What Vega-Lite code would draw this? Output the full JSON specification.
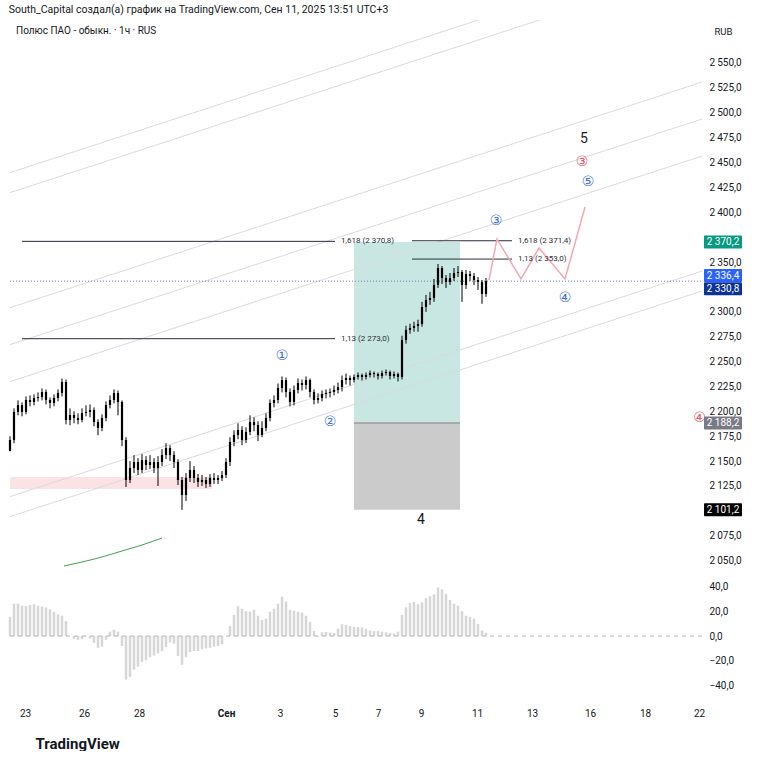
{
  "$schema": "https://vega.github.io/schema/vega-lite/v6.json",
  "padding": {"left": 8, "top": 4, "right": 0, "bottom": 0},
  "autosize": {"type": "pad"},
  "background": "white",
  "config": {
    "font": "Roboto",
    "view": {"stroke": null},
    "locale": {"number": {"decimal": ",", "thousands": "\u2009", "grouping": [3], "currency": ["", ""]}},
    "axis": {"grid": false, "ticks": false, "domain": false, "labelColor": "#131722", "labelFontSize": 10, "labelFont": "Roboto"}
  },
  "title": {"text": "South_Capital создал(а) график на TradingView.com, Сен 11, 2025 13:51 UTC+3", "anchor": "start", "frame": "bounds", "fontSize": 10.5, "fontWeight": "normal", "color": "#131722", "offset": 5, "font": "Roboto"},
  "datasets": {
    "candles": [
      {"t":0,"o":2160,"h":2175,"l":2164,"c":2171.2,"v":15.5},
      {"t":1,"o":2171.2,"h":2203,"l":2168,"c":2199.4,"v":26},
      {"t":2,"o":2199.4,"h":2211,"l":2196,"c":2206.4,"v":26},
      {"t":3,"o":2206.4,"h":2209,"l":2195,"c":2199.4,"v":24.5},
      {"t":4,"o":2199.4,"h":2215,"l":2197,"c":2211.4,"v":24},
      {"t":5,"o":2211.4,"h":2216,"l":2205,"c":2209.4,"v":25},
      {"t":6,"o":2209.4,"h":2217,"l":2206,"c":2213.4,"v":25.5},
      {"t":7,"o":2213.4,"h":2219,"l":2210,"c":2214.4,"v":24.5},
      {"t":8,"o":2214.4,"h":2223,"l":2211,"c":2219.5,"v":23.7},
      {"t":9,"o":2219.5,"h":2222,"l":2207,"c":2211.4,"v":23},
      {"t":10,"o":2211.4,"h":2214,"l":2203,"c":2208.4,"v":21.5},
      {"t":11,"o":2208.4,"h":2217,"l":2205,"c":2213.4,"v":19.5},
      {"t":12,"o":2213.4,"h":2222,"l":2210,"c":2218.5,"v":17.5},
      {"t":13,"o":2218.5,"h":2233,"l":2215,"c":2229.5,"v":16.3},
      {"t":14,"o":2229.5,"h":2232,"l":2187,"c":2191.3,"v":12},
      {"t":15,"o":2191.3,"h":2203,"l":2186,"c":2196.3,"v":0},
      {"t":16,"o":2196.3,"h":2200,"l":2188,"c":2193.3,"v":-2.5},
      {"t":17,"o":2193.3,"h":2198,"l":2187,"c":2191.3,"v":-3},
      {"t":18,"o":2191.3,"h":2203,"l":2189,"c":2198.4,"v":-2.5},
      {"t":19,"o":2198.4,"h":2206,"l":2195,"c":2199.4,"v":0.5},
      {"t":20,"o":2199.4,"h":2207,"l":2194,"c":2201.4,"v":-2},
      {"t":21,"o":2201.4,"h":2204,"l":2185,"c":2189.3,"v":-5.5},
      {"t":22,"o":2189.3,"h":2192,"l":2176,"c":2183.3,"v":-9.5},
      {"t":23,"o":2183.3,"h":2197,"l":2180,"c":2193.3,"v":-8.5},
      {"t":24,"o":2193.3,"h":2210,"l":2190,"c":2206.4,"v":-3},
      {"t":25,"o":2206.4,"h":2216,"l":2203,"c":2211.4,"v":3.5},
      {"t":26,"o":2211.4,"h":2222,"l":2208,"c":2218.5,"v":5},
      {"t":27,"o":2218.5,"h":2221,"l":2196,"c":2209.4,"v":3.5},
      {"t":28,"o":2209.4,"h":2211,"l":2165,"c":2171.2,"v":-8},
      {"t":29,"o":2171.2,"h":2174,"l":2124,"c":2131.0,"v":-35},
      {"t":30,"o":2131.0,"h":2150,"l":2128,"c":2143.1,"v":-33},
      {"t":31,"o":2143.1,"h":2156,"l":2138,"c":2149.1,"v":-27},
      {"t":32,"o":2149.1,"h":2153,"l":2136,"c":2141.1,"v":-24.5},
      {"t":33,"o":2141.1,"h":2157,"l":2138,"c":2151.1,"v":-21},
      {"t":34,"o":2151.1,"h":2155,"l":2141,"c":2146.1,"v":-19.5},
      {"t":35,"o":2146.1,"h":2156,"l":2142,"c":2149.1,"v":-17},
      {"t":36,"o":2149.1,"h":2153,"l":2138,"c":2143.1,"v":-15.5},
      {"t":37,"o":2143.1,"h":2155,"l":2125,"c":2149.1,"v":-14},
      {"t":38,"o":2149.1,"h":2162,"l":2145,"c":2156.2,"v":-12},
      {"t":39,"o":2156.2,"h":2168,"l":2152,"c":2163.2,"v":-9},
      {"t":40,"o":2163.2,"h":2166,"l":2150,"c":2156.2,"v":-5},
      {"t":41,"o":2156.2,"h":2160,"l":2143,"c":2149.1,"v":-6},
      {"t":42,"o":2149.1,"h":2152,"l":2126,"c":2131.0,"v":-16},
      {"t":43,"o":2131.0,"h":2134,"l":2101,"c":2116.0,"v":-23},
      {"t":44,"o":2116.0,"h":2138,"l":2110,"c":2133.1,"v":-17},
      {"t":45,"o":2133.1,"h":2150,"l":2129,"c":2141.1,"v":-13},
      {"t":46,"o":2141.1,"h":2145,"l":2128,"c":2133.1,"v":-12},
      {"t":47,"o":2133.1,"h":2137,"l":2124,"c":2129.0,"v":-12},
      {"t":48,"o":2129.0,"h":2136,"l":2125,"c":2131.0,"v":-10.6},
      {"t":49,"o":2131.0,"h":2134,"l":2123,"c":2127.0,"v":-10},
      {"t":50,"o":2127.0,"h":2137,"l":2124,"c":2133.1,"v":-9.5},
      {"t":51,"o":2133.1,"h":2138,"l":2127,"c":2131.0,"v":-8.5},
      {"t":52,"o":2131.0,"h":2136,"l":2127,"c":2133.1,"v":-8},
      {"t":53,"o":2133.1,"h":2140,"l":2130,"c":2136.1,"v":-6.5},
      {"t":54,"o":2136.1,"h":2153,"l":2133,"c":2149.1,"v":0},
      {"t":55,"o":2149.1,"h":2174,"l":2145,"c":2169.2,"v":8},
      {"t":56,"o":2169.2,"h":2181,"l":2165,"c":2176.3,"v":17},
      {"t":57,"o":2176.3,"h":2188,"l":2172,"c":2181.3,"v":24},
      {"t":58,"o":2181.3,"h":2185,"l":2166,"c":2171.2,"v":22},
      {"t":59,"o":2171.2,"h":2184,"l":2168,"c":2179.3,"v":20},
      {"t":60,"o":2179.3,"h":2196,"l":2176,"c":2189.3,"v":19.6},
      {"t":61,"o":2189.3,"h":2194,"l":2180,"c":2186.3,"v":21},
      {"t":62,"o":2186.3,"h":2190,"l":2170,"c":2176.3,"v":16.3},
      {"t":63,"o":2176.3,"h":2190,"l":2174,"c":2183.3,"v":13},
      {"t":64,"o":2183.3,"h":2198,"l":2180,"c":2193.3,"v":14},
      {"t":65,"o":2193.3,"h":2212,"l":2190,"c":2208.4,"v":19.6},
      {"t":66,"o":2208.4,"h":2216,"l":2204,"c":2211.4,"v":22},
      {"t":67,"o":2211.4,"h":2228,"l":2208,"c":2223.5,"v":26},
      {"t":68,"o":2223.5,"h":2235,"l":2219,"c":2231.5,"v":31.8},
      {"t":69,"o":2231.5,"h":2234,"l":2214,"c":2219.5,"v":27.8},
      {"t":70,"o":2219.5,"h":2223,"l":2205,"c":2209.4,"v":21},
      {"t":71,"o":2209.4,"h":2226,"l":2206,"c":2221.5,"v":20.4},
      {"t":72,"o":2221.5,"h":2233,"l":2218,"c":2228.5,"v":19.6},
      {"t":73,"o":2228.5,"h":2232,"l":2221,"c":2226.5,"v":18.8},
      {"t":74,"o":2226.5,"h":2235,"l":2222,"c":2231.5,"v":16.3},
      {"t":75,"o":2231.5,"h":2233,"l":2214,"c":2219.5,"v":11.4},
      {"t":76,"o":2219.5,"h":2222,"l":2207,"c":2211.4,"v":4},
      {"t":77,"o":2211.4,"h":2218,"l":2208,"c":2213.4,"v":-0.5},
      {"t":78,"o":2213.4,"h":2221,"l":2210,"c":2217.5,"v":3},
      {"t":79,"o":2217.5,"h":2222,"l":2213,"c":2218.5,"v":3.3},
      {"t":80,"o":2218.5,"h":2223,"l":2214,"c":2219.5,"v":2.8},
      {"t":81,"o":2219.5,"h":2226,"l":2216,"c":2221.5,"v":2.5},
      {"t":82,"o":2221.5,"h":2229,"l":2218,"c":2224.5,"v":6},
      {"t":83,"o":2224.5,"h":2236,"l":2220,"c":2231.5,"v":9.5},
      {"t":84,"o":2231.5,"h":2238,"l":2227,"c":2233.5,"v":9},
      {"t":85,"o":2233.5,"h":2236,"l":2226,"c":2231.5,"v":8},
      {"t":86,"o":2231.5,"h":2237,"l":2229,"c":2234.5,"v":7.5},
      {"t":87,"o":2234.5,"h":2239,"l":2232,"c":2236.5,"v":7.3},
      {"t":88,"o":2236.5,"h":2238,"l":2231,"c":2234.5,"v":7},
      {"t":89,"o":2234.5,"h":2239,"l":2232,"c":2236.5,"v":5.8},
      {"t":90,"o":2236.5,"h":2241,"l":2234,"c":2238.5,"v":4.5},
      {"t":91,"o":2238.5,"h":2240,"l":2234,"c":2237.5,"v":4},
      {"t":92,"o":2237.5,"h":2239,"l":2232,"c":2235.5,"v":4},
      {"t":93,"o":2235.5,"h":2241,"l":2233,"c":2238.5,"v":3.6},
      {"t":94,"o":2238.5,"h":2242,"l":2236,"c":2239.5,"v":3},
      {"t":95,"o":2239.5,"h":2241,"l":2232,"c":2235.5,"v":2.5},
      {"t":96,"o":2235.5,"h":2240,"l":2233,"c":2237.5,"v":2.2},
      {"t":97,"o":2237.5,"h":2239,"l":2230,"c":2234.5,"v":3.5},
      {"t":98,"o":2234.5,"h":2276,"l":2232,"c":2271.7,"v":17},
      {"t":99,"o":2271.7,"h":2286,"l":2268,"c":2281.8,"v":23},
      {"t":100,"o":2281.8,"h":2288,"l":2278,"c":2283.8,"v":26.5},
      {"t":101,"o":2283.8,"h":2290,"l":2280,"c":2285.8,"v":27.5},
      {"t":102,"o":2285.8,"h":2292,"l":2280,"c":2287.8,"v":25.5},
      {"t":103,"o":2287.8,"h":2310,"l":2285,"c":2304.9,"v":27},
      {"t":104,"o":2304.9,"h":2317,"l":2300,"c":2311.9,"v":30.5},
      {"t":105,"o":2311.9,"h":2320,"l":2307,"c":2313.9,"v":32},
      {"t":106,"o":2313.9,"h":2333,"l":2310,"c":2327.0,"v":33.5},
      {"t":107,"o":2327.0,"h":2348,"l":2324,"c":2344.0,"v":39},
      {"t":108,"o":2344.0,"h":2346,"l":2328,"c":2334.0,"v":37.5},
      {"t":109,"o":2334.0,"h":2337,"l":2324,"c":2330.0,"v":34},
      {"t":110,"o":2330.0,"h":2339,"l":2327,"c":2334.0,"v":29},
      {"t":111,"o":2334.0,"h":2344,"l":2331,"c":2339.0,"v":26},
      {"t":112,"o":2339.0,"h":2346,"l":2335,"c":2340.0,"v":24.5},
      {"t":113,"o":2340.0,"h":2342,"l":2310,"c":2327.0,"v":20},
      {"t":114,"o":2327.0,"h":2342,"l":2323,"c":2338.0,"v":16.3},
      {"t":115,"o":2338.0,"h":2341,"l":2331,"c":2336.0,"v":15.5},
      {"t":116,"o":2336.0,"h":2339,"l":2327,"c":2332.0,"v":13.9},
      {"t":117,"o":2332.0,"h":2335,"l":2322,"c":2330.0,"v":9.8},
      {"t":118,"o":2330.0,"h":2332,"l":2308,"c":2318.0,"v":4.5},
      {"t":119,"o":2318.0,"h":2334,"l":2315,"c":2330.8,"v":2.5}
    ],
    "channels": [
      {"id":1,"t":-0.25,"p":2439.5},{"id":1,"t":173,"p":2666.5},
      {"id":2,"t":-0.25,"p":2419.4},{"id":2,"t":173,"p":2646.4},
      {"id":3,"t":-0.25,"p":2303.8},{"id":3,"t":173,"p":2530.8},
      {"id":4,"t":-0.25,"p":2266.7},{"id":4,"t":173,"p":2493.7},
      {"id":5,"t":-0.25,"p":2229.5},{"id":5,"t":173,"p":2456.5},
      {"id":6,"t":-0.25,"p":2114.0},{"id":6,"t":173,"p":2341.0},
      {"id":7,"t":-0.25,"p":2093.9},{"id":7,"t":173,"p":2320.9}
    ],
    "zones": [
      {"kind":"pink","t":0,"t2":50.5,"p":2122.0,"p2":2134.1},
      {"kind":"profit","t":86,"t2":112.5,"p":2188.2,"p2":2370.2},
      {"kind":"stop","t":86,"t2":112.5,"p":2101.2,"p2":2188.2}
    ],
    "fibs": [
      {"t":3,"t2":81.25,"p":2370.8},
      {"t":3,"t2":81.25,"p":2273.0},
      {"t":100.5,"t2":125.5,"p":2371.4},
      {"t":100.5,"t2":125.5,"p":2353.0}
    ],
    "entry": [
      {"t":86,"t2":112.5,"p":2188.2}
    ],
    "path": [
      {"t":119.75,"p":2331.9},
      {"t":121.75,"p":2373.2},
      {"t":127.75,"p":2333.0},
      {"t":132.25,"p":2364.1},
      {"t":138.75,"p":2333.0},
      {"t":143.75,"p":2405.3}
    ],
    "ma": [
      {"t":13.5,"p":2044.6},
      {"t":18,"p":2048.6},
      {"t":23,"p":2053.7},
      {"t":28,"p":2059.7},
      {"t":33,"p":2065.7},
      {"t":38,"p":2072.8}
    ],
    "labels": [
      {"kind":"legend","t":1.5,"p":2582,"text":"Полюс ПАО - обыкн. · 1ч · RUS"},
      {"kind":"blue","t":68,"p":2255.6,"text":"①"},
      {"kind":"blue","t":80,"p":2189.3,"text":"②"},
      {"kind":"blue","t":121.5,"p":2391.3,"text":"③"},
      {"kind":"blue","t":138.75,"p":2313.9,"text":"④"},
      {"kind":"blue","t":144.5,"p":2430.4,"text":"⑤"},
      {"kind":"red","t":143,"p":2450.5,"text":"③"},
      {"kind":"red","t":172.4,"p":2193.3,"text":"④"},
      {"kind":"big","t":143.5,"p":2473.6,"text":"5"},
      {"kind":"big","t":102.75,"p":2090.9,"text":"4"},
      {"kind":"fib","t":82.75,"p":2370.8,"text":"1,618 (2 370,8)"},
      {"kind":"fib","t":82.75,"p":2273.0,"text":"1,13 (2 273,0)"},
      {"kind":"fib","t":127,"p":2371.4,"text":"1,618 (2 371,4)"},
      {"kind":"fib","t":127,"p":2353.0,"text":"1,13 (2 353,0)"}
    ],
    "tags": [
      {"kind":"green","t":178.25,"t1":173.5,"t2":183,"p":2370.2,"lo":2363.7,"hi":2376.7,"text":"2 370,2"},
      {"kind":"blue","t":178.25,"t1":173.5,"t2":183,"p":2336.4,"lo":2329.9,"hi":2342.9,"text":"2 336,4"},
      {"kind":"navy","t":178.25,"t1":173.5,"t2":183,"p":2323.2,"lo":2316.7,"hi":2329.7,"text":"2 330,8"},
      {"kind":"gray","t":178.25,"t1":173.5,"t2":183,"p":2188.2,"lo":2181.7,"hi":2194.7,"text":"2 188,2"},
      {"kind":"black","t":178.25,"t1":173.5,"t2":183,"p":2101.2,"lo":2094.7,"hi":2107.7,"text":"2 101,2"}
    ],
    "price": [
      {"t":0,"t2":173,"p":2330.8}
    ]
  },
  "spacing": 0,
  "vconcat": [
    {
      "width": 692,
      "height": 548,
      "resolve": {"scale": {"color": "independent"}},
      "encoding": {
        "x": {"field": "t", "type": "quantitative", "scale": {"domain": [0, 173], "nice": false, "zero": false, "padding": 0}, "axis": null},
        "y": {"field": "p", "type": "quantitative", "scale": {"domain": [2042.6, 2593.2], "nice": false, "zero": false, "padding": 0},
          "axis": {"orient": "right", "values": [2050,2075,2125,2150,2175,2200,2225,2250,2275,2300,2350,2400,2425,2450,2475,2500,2525,2550], "format": ",.1f", "labelPadding": 7, "labelAlign": "left", "labelOverlap": false,
            "title": "RUB", "titleAngle": 0, "titleAlign": "left", "titleBaseline": "middle", "titleX": 12, "titleY": 11, "titleFontSize": 9.5, "titleFontWeight": "normal", "titleColor": "#131722"}}
      },
      "layer": [
        {
          "data": {"name": "zones"},
          "mark": {"type": "rect"},
          "encoding": {
            "x2": {"field": "t2"},
            "y2": {"field": "p2"},
            "color": {"field": "kind", "type": "nominal", "scale": {"domain": ["pink", "profit", "stop"], "range": ["#fbe2e5", "#c8e7e2", "#cbcbcb"]}, "legend": null}
          }
        },
        {
          "data": {"name": "channels"},
          "mark": {"type": "line", "color": "#dadade", "strokeWidth": 1, "clip": true},
          "encoding": {"detail": {"field": "id", "type": "nominal"}}
        },
        {
          "data": {"name": "entry"},
          "mark": {"type": "rule", "color": "#9a9a9a", "strokeWidth": 1.5},
          "encoding": {"x2": {"field": "t2"}}
        },
        {
          "data": {"name": "price"},
          "mark": {"type": "rule", "color": "#6f7fa8", "strokeWidth": 1, "strokeDash": [1, 2]},
          "encoding": {"x2": {"field": "t2"}}
        },
        {
          "data": {"name": "fibs"},
          "mark": {"type": "rule", "color": "#2a2e39", "strokeWidth": 1},
          "encoding": {"x2": {"field": "t2"}}
        },
        {
          "data": {"name": "ma"},
          "mark": {"type": "line", "color": "#43a047", "strokeWidth": 1, "interpolate": "monotone", "clip": true},
          "encoding": {}
        },
        {
          "data": {"name": "candles"},
          "mark": {"type": "rule", "color": "#000000", "strokeWidth": 1},
          "encoding": {
            "y": {"field": "l", "type": "quantitative", "scale": {"domain": [2042.6, 2593.2], "nice": false, "zero": false, "padding": 0},
              "axis": {"orient": "right", "values": [2050,2075,2125,2150,2175,2200,2225,2250,2275,2300,2350,2400,2425,2450,2475,2500,2525,2550], "format": ",.1f", "labelPadding": 7, "labelAlign": "left", "labelOverlap": false,
                "title": "RUB", "titleAngle": 0, "titleAlign": "left", "titleBaseline": "middle", "titleX": 12, "titleY": 11, "titleFontSize": 9.5, "titleFontWeight": "normal", "titleColor": "#131722"}},
            "y2": {"field": "h"}
          }
        },
        {
          "data": {"name": "candles"},
          "mark": {"type": "bar", "color": "#000000", "size": 2.2},
          "encoding": {
            "y": {"field": "o", "type": "quantitative", "scale": {"domain": [2042.6, 2593.2], "nice": false, "zero": false, "padding": 0},
              "axis": {"orient": "right", "values": [2050,2075,2125,2150,2175,2200,2225,2250,2275,2300,2350,2400,2425,2450,2475,2500,2525,2550], "format": ",.1f", "labelPadding": 7, "labelAlign": "left", "labelOverlap": false,
                "title": "RUB", "titleAngle": 0, "titleAlign": "left", "titleBaseline": "middle", "titleX": 12, "titleY": 11, "titleFontSize": 9.5, "titleFontWeight": "normal", "titleColor": "#131722"}},
            "y2": {"field": "c"}
          }
        },
        {
          "data": {"name": "path"},
          "mark": {"type": "line", "color": "#f4a7b4", "strokeWidth": 1.5},
          "encoding": {}
        },
        {
          "data": {"name": "labels"},
          "transform": [{"filter": "datum.kind == 'blue' || datum.kind == 'red'"}],
          "mark": {"type": "text", "fontSize": 14, "align": "center", "baseline": "middle", "font": "DejaVu Sans"},
          "encoding": {
            "text": {"field": "text"},
            "color": {"field": "kind", "type": "nominal", "scale": {"domain": ["blue", "red"], "range": ["#3f6fdf", "#e0566a"]}, "legend": null}
          }
        },
        {
          "data": {"name": "labels"},
          "transform": [{"filter": "datum.kind == 'big'"}],
          "mark": {"type": "text", "fontSize": 14, "align": "center", "baseline": "middle", "color": "#131722"},
          "encoding": {"text": {"field": "text"}}
        },
        {
          "data": {"name": "labels"},
          "transform": [{"filter": "datum.kind == 'fib'"}],
          "mark": {"type": "text", "fontSize": 8, "align": "left", "baseline": "middle", "color": "#2a2e39"},
          "encoding": {"text": {"field": "text"}}
        },
        {
          "data": {"name": "labels"},
          "transform": [{"filter": "datum.kind == 'legend'"}],
          "mark": {"type": "text", "fontSize": 10, "align": "left", "baseline": "middle", "color": "#131722"},
          "encoding": {"text": {"field": "text"}}
        },
        {
          "data": {"name": "tags"},
          "mark": {"type": "rect", "clip": false, "cornerRadius": 1},
          "encoding": {
            "x": {"field": "t1", "type": "quantitative", "scale": {"domain": [0, 173], "nice": false, "zero": false, "padding": 0}, "axis": null},
            "x2": {"field": "t2"},
            "y": {"field": "lo", "type": "quantitative", "scale": {"domain": [2042.6, 2593.2], "nice": false, "zero": false, "padding": 0},
              "axis": {"orient": "right", "values": [2050,2075,2125,2150,2175,2200,2225,2250,2275,2300,2350,2400,2425,2450,2475,2500,2525,2550], "format": ",.1f", "labelPadding": 7, "labelAlign": "left", "labelOverlap": false,
                "title": "RUB", "titleAngle": 0, "titleAlign": "left", "titleBaseline": "middle", "titleX": 12, "titleY": 11, "titleFontSize": 9.5, "titleFontWeight": "normal", "titleColor": "#131722"}},
            "y2": {"field": "hi"},
            "color": {"field": "kind", "type": "nominal", "scale": {"domain": ["green", "blue", "navy", "gray", "black"], "range": ["#089981", "#2962ff", "#0c3299", "#787b86", "#000000"]}, "legend": null}
          }
        },
        {
          "data": {"name": "tags"},
          "mark": {"type": "text", "clip": false, "fontSize": 10, "align": "center", "baseline": "middle", "color": "#ffffff"},
          "encoding": {"text": {"field": "text"}}
        }
      ]
    },
    {
      "width": 692,
      "height": 132,
      "data": {"name": "candles"},
      "encoding": {
        "x": {"field": "t", "type": "quantitative", "scale": {"domain": [0, 173], "nice": false, "zero": false, "padding": 0},
          "axis": {"values": [3.75, 18.5, 32.25, 54, 67.5, 81.25, 92, 102.75, 116.75, 130.5, 145, 158.75, 172.25],
            "labelExpr": "['23','26','28','Сен','3','5','7','9','11','13','16','18','22'][indexof([3.75,18.5,32.25,54,67.5,81.25,92,102.75,116.75,130.5,145,158.75,172.25], datum.value)]",
            "labelFontWeight": {"condition": {"test": "datum.value == 54", "value": "bold"}, "value": "normal"},
            "labelOverlap": false, "labelFlush": false, "labelPadding": 8,
            "title": "TradingView", "titleFontSize": 15, "titleFontWeight": "bold", "titleColor": "#131722", "titleAnchor": "start", "titleAlign": "left", "titleX": 25, "titlePadding": 18}},
        "y": {"field": "v", "type": "quantitative", "scale": {"domain": [-51.4, 54.7], "nice": false, "zero": false, "padding": 0},
          "axis": {"orient": "right", "values": [-40, -20, 0, 20, 40], "format": ".1f", "labelPadding": 7, "labelAlign": "left", "labelOverlap": false, "title": null}}
      },
      "layer": [
        {
          "mark": {"type": "bar", "color": "#d6d6d6", "size": 2.5}
        },
        {
          "data": {"values": [{"t": 0, "t2": 173, "v": 0}]},
          "mark": {"type": "rule", "color": "#b2b5be", "strokeWidth": 1, "strokeDash": [4, 4]},
          "encoding": {"x2": {"field": "t2"}}
        }
      ]
    }
  ]
}
